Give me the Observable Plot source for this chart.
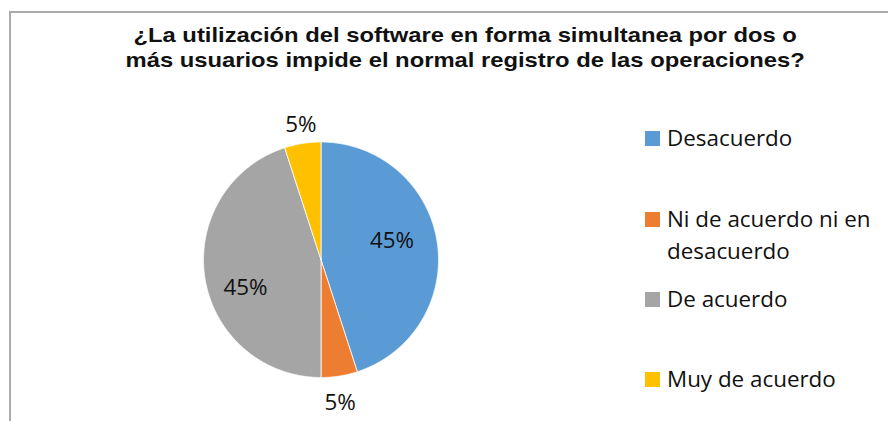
<!DOCTYPE html>
<html>
<head>
<meta charset="utf-8">
<script src="https://cdn.jsdelivr.net/npm/d3@7"></script>
<script src="https://cdn.jsdelivr.net/npm/@observablehq/plot@0.6"></script>
<style>
  html, body { margin: 0; padding: 0; background: #fff; }
  #wrap { position: relative; width: 888px; height: 421px; overflow: hidden; }
  #frame { position: absolute; left: 9px; top: 11px; width: 900px; height: 430px;
           border-left: 2px solid #ababab; border-top: 2px solid #ababab; box-sizing: border-box; }
  #title { position: absolute; left: 0; top: 22px; width: 930px; text-align: center;
           font-family: "Liberation Sans", Arial, sans-serif; font-weight: bold; font-size: 20.5px;
           line-height: 25px; color: #111; transform: scaleX(1.16); transform-origin: 464px 0; }
  #chart { position: absolute; left: 0; top: 0; }
  #legend { position: absolute; left: 645px; top: 0; font-family: "Open Sans", sans-serif;
            font-size: 22.4px; color: #111; }
  .item { position: absolute; left: 0; white-space: nowrap; }
  .sw { position: absolute; left: 0; width: 15px; height: 15px; }
  .lab { position: absolute; left: 22px; line-height: 32px; }
</style>
</head>
<body>
<div id="wrap">
  <div id="frame"></div>
  <div id="chart"></div>
  <div id="title">¿La utilización del software en forma simultanea por dos o<br>más usuarios impide el normal registro de las operaciones?</div>
  <div id="legend"></div>
</div>
<script>
const categories = ["Desacuerdo", "Ni de acuerdo ni en desacuerdo", "De acuerdo", "Muy de acuerdo"];
const legendLines = [["Desacuerdo"], ["Ni de acuerdo ni en", "desacuerdo"], ["De acuerdo"], ["Muy de acuerdo"]];
const values = [45, 5, 45, 5];
const labels = ["45%", "5%", "45%", "5%"];
const colors = ["#5B9BD5", "#ED7D31", "#A5A5A5", "#FFC000"];

// pie geometry from data (start at 12 o'clock, clockwise)
const arcs = d3.pie().sort(null).value(d => d)(values);
const polys = [];
arcs.forEach((a, i) => {
  polys.push({cat: categories[i], x: 0, y: 0});
  const n = Math.max(2, Math.ceil((a.endAngle - a.startAngle) / 0.005));
  for (let k = 0; k <= n; k++) {
    const t = a.startAngle + (a.endAngle - a.startAngle) * k / n;
    polys.push({cat: categories[i], x: Math.sin(t), y: Math.cos(t)});
  }
  polys.push({cat: categories[i], x: 0, y: 0});
});
// label positions: inside for big slices, outside for small (Excel "best fit" nudges)
const labelRadius = [0.62, 1.2, 0.65, 1.2];
const labelDx = [-1, -3, 0, 2];
const labelDy = [-8, 4, 16, 5];
const labelData = arcs.map((a, i) => {
  const m = (a.startAngle + a.endAngle) / 2;
  return {x: labelRadius[i] * Math.sin(m), y: labelRadius[i] * Math.cos(m), text: labels[i], dx: labelDx[i], dy: labelDy[i]};
});

const plot = Plot.plot({
  width: 888,
  height: 421,
  marginLeft: 203,
  marginRight: 450,
  marginTop: 141.5,
  marginBottom: 44,
  x: {domain: [-1, 1], axis: null},
  y: {domain: [-1, 1], axis: null},
  color: {domain: categories, range: colors},
  style: {background: "transparent", overflow: "visible"},
  marks: [
    Plot.line(polys, {x: "x", y: "y", z: "cat", fill: "cat", stroke: "white", strokeWidth: 0.8, curve: "linear"}),
    ...labelData.map(d => Plot.text([d], {x: "x", y: "y", text: "text", dx: d.dx, dy: d.dy, fontSize: 22.4, fill: "#111",
      fontFamily: "Open Sans, sans-serif", textAnchor: "middle", lineAnchor: "middle"}))
  ]
});
document.getElementById("chart").appendChild(plot);

// legend
const legendTops = [139, 220, 300, 380];
const lg = document.getElementById("legend");
categories.forEach((c, i) => {
  const it = document.createElement("div");
  it.className = "item";
  it.style.top = legendTops[i] + "px";
  const sw = document.createElement("div");
  sw.className = "sw";
  sw.style.background = colors[i];
  sw.style.top = "-8px";
  const lab = document.createElement("div");
  lab.className = "lab";
  lab.style.top = "-17px";
  lab.innerHTML = legendLines[i].join("<br>");
  it.appendChild(sw); it.appendChild(lab);
  lg.appendChild(it);
});
</script>
</body>
</html>
